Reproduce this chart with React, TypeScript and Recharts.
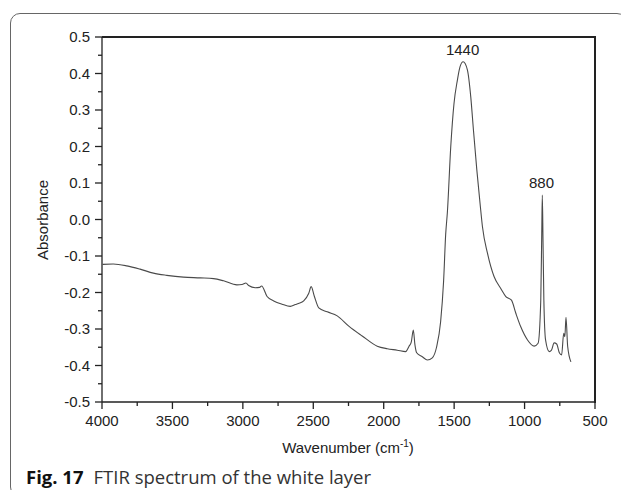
import React from "react";
import { LineChart, Line, XAxis, YAxis, ReferenceDot, ReferenceLine } from "recharts";

// FTIR spectrum (wavenumber in cm-1, descending)
const wavenumbers = [
  3995, 3920, 3824, 3730, 3635, 3540, 3422, 3303, 3208, 3137, 3042, 3006, 2978, 2959, 2912, 2881, 2867,
  2828, 2781, 2722, 2663, 2627, 2605, 2568, 2532, 2515, 2492, 2461, 2401, 2330, 2248, 2153, 2046, 1975,
  1904, 1844, 1821, 1804, 1790, 1778, 1766, 1726, 1690, 1655, 1625, 1596, 1575, 1560, 1548, 1524, 1501,
  1477, 1458, 1436, 1406, 1382, 1363, 1339, 1316, 1299, 1263, 1216, 1169, 1133, 1093, 1062, 1027, 979,
  932, 904, 885, 878, 874, 869, 863, 851, 825, 809, 790, 772, 753, 737, 722, 714, 706, 694, 671,
];
const absorbance = [
  -0.123, -0.122, -0.127, -0.136, -0.147, -0.153, -0.158, -0.16, -0.162, -0.168, -0.179, -0.178, -0.174,
  -0.181, -0.187, -0.186, -0.182, -0.211, -0.223, -0.232, -0.238, -0.233, -0.23, -0.223, -0.202, -0.184,
  -0.211, -0.242, -0.253, -0.264, -0.292, -0.319, -0.347, -0.354, -0.358, -0.362, -0.348, -0.335, -0.303,
  -0.344, -0.365, -0.376, -0.385, -0.379, -0.35, -0.28, -0.17, -0.04, 0.02, 0.2, 0.318, 0.382, 0.419,
  0.432, 0.41, 0.336, 0.245, 0.136, 0.044, -0.02, -0.093, -0.157, -0.189, -0.211, -0.221, -0.257, -0.294,
  -0.33, -0.347, -0.339, -0.221, -0.037, 0.067, -0.06, -0.221, -0.33, -0.362, -0.358, -0.338, -0.341,
  -0.365, -0.371, -0.312, -0.321, -0.268, -0.348, -0.39,
];

const peakPositions = [1440, 880];
const peakHeights = [0.432, 0.067];
const peakLabels = ["1440", "880"];

const xMajorTicks = [4000, 3500, 3000, 2500, 2000, 1500, 1000, 500];
const yMajorTicks = [-0.5, -0.4, -0.3, -0.2, -0.1, 0, 0.1, 0.2, 0.3, 0.4, 0.5];

const data = wavenumbers.map((wn, i) => ({ wn, a: absorbance[i] }));
const xTicks = [...xMajorTicks, ...xMajorTicks.slice(1).map((t) => t + 250)].sort((a, b) => a - b);
const yTicks = [...yMajorTicks, ...yMajorTicks.slice(1).map((t) => t - 0.05)].sort((a, b) => a - b);

const FONT = "'Liberation Sans', Arial, sans-serif";
const INK = "#222";
const TS = 6;
const TM = 6;

// plot box (matches chart margins and axis sizes below)
const PLOT_LEFT = 102;
const PLOT_TOP = 37;
const PLOT_RIGHT = 595;
const PLOT_BOTTOM = 402;

function XTick(props: any) {
  const { x, y, payload } = props;
  const v = payload.value as number;
  const ay = y - TS - TM;
  const major = xMajorTicks.includes(v);
  return (
    <g>
      <line x1={x} x2={x} y1={ay} y2={ay + (major ? 7 : 4)} stroke={INK} strokeWidth={1.3} />
      {major && (
        <text x={x} y={ay + 24} textAnchor="middle" fontSize={15} fill={INK} fontFamily={FONT}>
          {v}
        </text>
      )}
    </g>
  );
}

function YTick(props: any) {
  const { x, y, payload } = props;
  const v = payload.value as number;
  const ax = x + TS + TM;
  const major = yMajorTicks.some((t) => Math.abs(t - v) < 1e-6);
  return (
    <g>
      <line x1={ax - (major ? 7 : 4)} x2={ax} y1={y} y2={y} stroke={INK} strokeWidth={1.3} />
      {major && (
        <text x={ax - 12} y={y + 5.3} textAnchor="end" fontSize={15} fill={INK} fontFamily={FONT}>
          {v.toFixed(1)}
        </text>
      )}
    </g>
  );
}

export default function App() {
  return (
    <div style={{ position: "relative", width: 629, height: 498, margin: -8, background: "#fff" }}>
      <div
        style={{
          position: "absolute",
          left: 10,
          top: 13,
          width: 617,
          height: 484,
          border: "1.2px solid #666",
          borderRadius: 10,
          boxSizing: "border-box",
        }}
      />
      <div style={{ position: "absolute", left: 0, top: 0 }}>
        <LineChart
          width={629}
          height={498}
          data={data}
          margin={{ top: PLOT_TOP, right: 629 - PLOT_RIGHT, bottom: 36, left: 0 }}
        >
          <XAxis
            dataKey="wn"
            type="number"
            domain={[500, 4000]}
            reversed
            ticks={xTicks}
            interval={0}
            tick={<XTick />}
            tickLine={false}
            tickSize={TS}
            tickMargin={TM}
            height={498 - 36 - PLOT_BOTTOM}
            axisLine={{ stroke: INK, strokeWidth: 1.3 }}
          />
          <YAxis
            type="number"
            domain={[-0.5, 0.5]}
            ticks={yTicks}
            interval={0}
            tick={<YTick />}
            tickLine={false}
            tickSize={TS}
            tickMargin={TM}
            width={PLOT_LEFT}
            allowDataOverflow
            axisLine={{ stroke: INK, strokeWidth: 1.3 }}
          />
          {/* top and right edges of the plot box */}
          <ReferenceLine y={0.5} stroke="#222222" strokeWidth={1.5} ifOverflow="extendDomain" />
          <ReferenceLine x={500} stroke="#222222" strokeWidth={1.5} ifOverflow="extendDomain" />
          <Line
            type="monotone"
            dataKey="a"
            stroke="#4a4a4a"
            strokeWidth={1.1}
            dot={false}
            isAnimationActive={false}
          />
          {peakPositions.map((p, i) => (
            <ReferenceDot
              key={p}
              x={p}
              y={peakHeights[i]}
              r={1}
              fill="none"
              stroke="none"
              label={{ value: peakLabels[i], position: "top", offset: 6, fill: INK, fontSize: 15, fontFamily: FONT }}
            />
          ))}
        </LineChart>
      </div>
      <div
        style={{
          position: "absolute",
          left: PLOT_LEFT,
          top: PLOT_TOP - 1,
          width: PLOT_RIGHT - PLOT_LEFT - 1,
          height: PLOT_BOTTOM - PLOT_TOP,
          borderTop: "2px solid #222",
          borderRight: "2px solid #222",
          pointerEvents: "none",
        }}
      />
      <div
        style={{
          position: "absolute",
          left: 42,
          top: 220,
          transform: "translate(-50%, -50%) rotate(-90deg)",
          fontFamily: FONT,
          fontSize: 15,
          color: INK,
          whiteSpace: "nowrap",
        }}
      >
        Absorbance
      </div>
      <div
        style={{
          position: "absolute",
          left: 348,
          top: 447,
          transform: "translate(-50%, -50%)",
          fontFamily: FONT,
          fontSize: 15,
          color: INK,
          whiteSpace: "nowrap",
        }}
      >
        Wavenumber (cm<sup style={{ fontSize: 10 }}>-1</sup>)
      </div>
      <div
        style={{
          position: "absolute",
          left: 26,
          top: 466,
          fontFamily: "'Open Sans', sans-serif",
          fontSize: 18.5,
          lineHeight: "22px",
          color: "#333",
          whiteSpace: "nowrap",
        }}
      >
        <b style={{ color: "#111" }}>Fig. 17</b>
        <span style={{ marginLeft: 10 }}>FTIR spectrum of the white layer</span>
      </div>
    </div>
  );
}
